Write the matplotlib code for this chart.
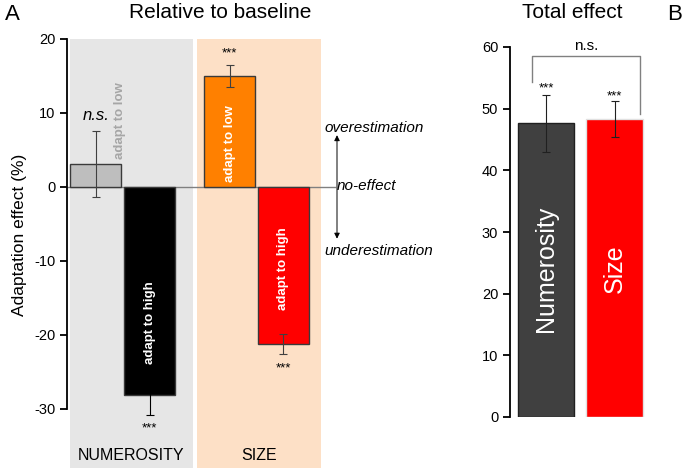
import matplotlib
matplotlib.use('Agg')
import matplotlib.pyplot as plt

plt.rcParams['font.family'] = ['Liberation Sans', 'DejaVu Sans']

# panel A: relative to baseline
cond_pos = [0, 1, 2.5, 3.5]
cond_vals = [3.1, -28.1, 15.0, -21.2]
cond_errs = [4.45, 2.8, 1.45, 1.35]
cond_colors = ['#bebebe', '#000000', '#ff8000', '#ff0000']
cond_labels = ['adapt to low', 'adapt to high', 'adapt to low', 'adapt to high']
cond_label_y = [9.0, -18.4, 5.9, -11.0]
cond_sig = ['n.s.', '***', '***', '***']
cond_sig_y = [9.6, -32.7, 18.0, -24.6]
groups = ['NUMEROSITY', 'SIZE']
group_spans = [(-0.49, 1.81), (1.89, 4.2)]
group_shades = ['#e6e6e6', '#fde0c6']

# panel B: total effect
tot_pos = [0, 1]
tot_vals = [47.6, 48.3]
tot_errs = [4.65, 2.9]
tot_colors = ['#404040', '#ff0000']
tot_labels = ['Numerosity', 'Size']
tot_sig_y = [53.3, 52.0]

fig = plt.figure(figsize=(6.85, 4.7), dpi=100)
W, H = 685.0, 470.0

# ---- panel A ----
ax = fig.add_axes([67 / W, 2 / H, 270 / W, 429 / H])
ax.set_xlim(-0.54, 4.5)
ax.set_ylim(-38, 20)
for (x0, x1), c, g in zip(group_spans, group_shades, groups):
    ax.fill_between([x0, x1], -38, 20, color=c, lw=0, zorder=0)
    ax.text((x0 + x1) / 2, -36.3, g, ha='center', va='center', fontsize=11.5)

ax.plot([-0.54, 4.47], [0, 0], color='#808080', lw=1, zorder=1, clip_on=False)
ax.bar(cond_pos, cond_vals, width=0.95, color=cond_colors,
       edgecolor='#3a3a3a', linewidth=1, zorder=2)
err_colors = ['#404040', '#000000', '#404040', '#404040']
for x, v, e, c in zip(cond_pos, cond_vals, cond_errs, err_colors):
    ax.errorbar(x, v, yerr=e, fmt='none', ecolor=c,
                elinewidth=0.8, capsize=3, capthick=0.8, zorder=3)

lab_colors = ['#a6a6a6', 'white', 'white', 'white']
lab_x = [0.45, 1, 2.5, 3.5]
for x, y, t, c in zip(lab_x, cond_label_y, cond_labels, lab_colors):
    ax.text(x, y, t, rotation=90, ha='center', va='center', color=c,
            fontsize=9.5, fontweight='bold', zorder=4)
for x, y, s in zip(cond_pos, cond_sig_y, cond_sig):
    if s == 'n.s.':
        ax.text(x, y, s, ha='center', va='center', fontsize=12, style='italic')
    else:
        ax.text(x, y, s, ha='center', va='center', fontsize=9.5)

ax.annotate('', xy=(4.5, 7.0), xytext=(4.5, -7.0),
            arrowprops=dict(arrowstyle='<|-|>', color='black', lw=0.7,
                            mutation_scale=8, shrinkA=0, shrinkB=0),
            annotation_clip=False)
ax.text(4.26, 7.9, 'overestimation', ha='left', va='center', fontsize=11,
        style='italic', clip_on=False)
ax.text(4.49, 0.1, 'no-effect', ha='left', va='center', fontsize=11,
        style='italic', clip_on=False)
ax.text(4.26, -8.6, 'underestimation', ha='left', va='center', fontsize=11,
        style='italic', clip_on=False)

for s in ['top', 'right', 'bottom']:
    ax.spines[s].set_visible(False)
ax.spines['left'].set_bounds(-30, 20)
ax.spines['left'].set_linewidth(1.3)
ax.set_yticks([20, 10, 0, -10, -20, -30])
ax.set_yticklabels(['20', '10', '0', '-10', '-20', '-30'])
ax.tick_params(axis='y', direction='out', length=5, width=1.3, labelsize=10.5)
ax.set_xticks([])
ax.set_ylabel('Adaptation effect (%)', fontsize=12.5)
ax.yaxis.set_label_coords(-0.148, 0.543)

fig.text(220 / W, 1 - 12 / H, 'Relative to baseline', ha='center', va='center',
         fontsize=15)
fig.text(12 / W, 1 - 15 / H, 'A', ha='center', va='center', fontsize=16)

# ---- panel B ----
bx = fig.add_axes([510 / W, 53 / H, 140 / W, 370 / H])
bx.set_xlim(-0.526, 1.518)
bx.set_ylim(0, 60)
bx.bar(tot_pos, tot_vals, width=0.82, color=tot_colors,
       edgecolor=['#202020', '#e0e0e0'], linewidth=1, zorder=2)
bx.errorbar(tot_pos, tot_vals, yerr=tot_errs, fmt='none', ecolor='#202020',
            elinewidth=0.8, capsize=3, capthick=0.8, zorder=3)
for x, t in zip(tot_pos, tot_labels):
    bx.text(x, 24, t, rotation=90, ha='center', va='center', color='white',
            fontsize=18, zorder=4)
for x, y in zip(tot_pos, tot_sig_y):
    bx.text(x, y, '***', ha='center', va='center', fontsize=9.5)
bx.plot([-0.2, -0.2, 1.37, 1.37], [54.3, 58.5, 58.5, 49.2],
        color='#808080', lw=1, clip_on=False)
bx.text(0.585, 60.2, 'n.s.', ha='center', va='center', fontsize=11,
        clip_on=False)

for s in ['top', 'right', 'bottom']:
    bx.spines[s].set_visible(False)
bx.spines['left'].set_linewidth(1.3)
bx.set_yticks(range(0, 61, 10))
bx.tick_params(axis='y', direction='out', length=5, width=1.3, labelsize=10.5)
bx.set_xticks([])

fig.text(572 / W, 1 - 12 / H, 'Total effect', ha='center', va='center',
         fontsize=15)
fig.text(675 / W, 1 - 15 / H, 'B', ha='center', va='center', fontsize=16)

fig.savefig('out.png', dpi=100)
